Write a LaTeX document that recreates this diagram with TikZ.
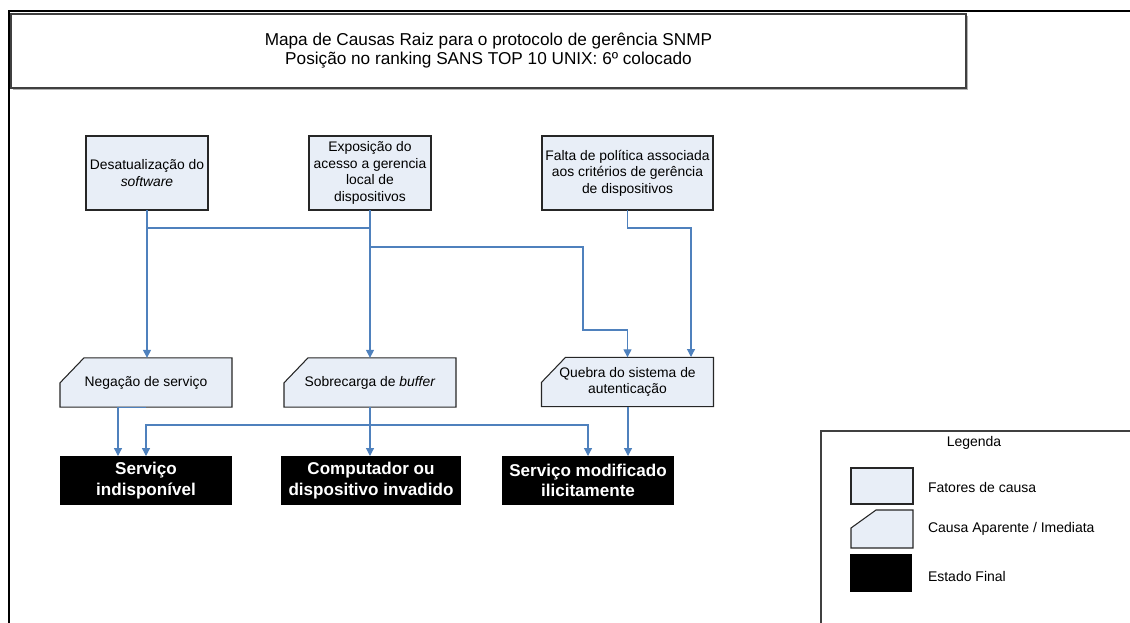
\documentclass[tikz,border=0pt]{standalone}
\usepackage{fontspec}
\setmainfont{Liberation Sans}
\usetikzlibrary{arrows.meta,backgrounds}
\definecolor{caixa}{RGB}{232,238,247}
\definecolor{azul}{RGB}{79,129,189}
\begin{document}
\begin{tikzpicture}[x=0.75pt,y=-0.75pt,
    texto/.style={inner sep=0pt,outer sep=0pt,align=center,font=\fontsize{10.4}{12.5}\selectfont},
    fator/.style={texto,draw=black!85,line width=0.8pt,fill=caixa},
    aparente/.style={texto,minimum width=129pt,minimum height=37pt},
    final/.style={inner sep=0pt,outer sep=0pt,fill=black,text=white,align=center,
        font=\fontsize{12.8}{15.5}\selectfont\bfseries,minimum height=36.75pt},
    seta/.style={azul,line width=0.9pt,-{Triangle[width=6pt,length=6pt]}},
    linha/.style={azul,line width=0.9pt}]

\useasboundingbox (0,0) rectangle (1130,622);
\draw[line width=1.8pt] (9,623) -- (9,11) -- (1131,11);

% titulo
\draw[black!30,line width=0.8pt] (13,89.5) -- (967.5,89.5) -- (967.5,16);
\node[draw=black!75,line width=0.8pt,minimum width=716.25pt,minimum height=55.5pt,
    inner sep=0pt,align=center,font=\fontsize{12.9}{14.3}\selectfont] (titulo) at (488.5,51)
    {Mapa de Causas Raiz para o protocolo de gerência SNMP\\Posição no ranking SANS TOP 10 UNIX: 6º colocado};

% fatores de causa
\node[fator,minimum width=91.5pt,minimum height=55.5pt] (desat) at (147,173) {Desatualização do\\\textit{software}};
\node[fator,minimum width=91.5pt,minimum height=55.5pt] (expo) at (370,173) {Exposição do\\acesso a gerencia\\local de\\dispositivos};
\node[fator,minimum width=128.25pt,minimum height=55.5pt] (falta) at (627.5,173) {Falta de política associada\\aos critérios de gerência\\de dispositivos};

% causas aparentes
\node[aparente] (neg) at (146,382.5) {Negação de serviço};
\node[aparente] (sobre) at (370,382.5) {Sobrecarga de \textit{buffer}};
\node[aparente] (quebra) at (627.5,382) {Quebra do sistema de\\autenticação};

% estados finais
\node[final,minimum width=129pt] (indisp) at (146,480.5) {Serviço\\indisponível};
\node[final,minimum width=135pt] (invadido) at (371,480.5) {Computador ou\\dispositivo invadido};
\node[final,minimum width=129pt] (modif) at (588,480.5) {Serviço modificado\\ilicitamente};

% legenda
\draw[black!75,line width=0.8pt] (821,623) -- (821,431) -- (1131,431);
\node[texto,font=\fontsize{10.5}{12.5}\selectfont] (legenda) at (974,443) {Legenda};
\node[fator,minimum width=46.5pt,minimum height=27pt] (lfator) at (882,486) {};
\node[aparente,minimum width=46.5pt,minimum height=28.5pt] (laparente) at (882,529) {};
\node[final,minimum width=46.5pt,minimum height=28.5pt] (lfinal) at (881,573) {};
\node[texto,anchor=west,font=\fontsize{10.5}{12.5}\selectfont] (tfator) at (928,487) {Fatores de causa};
\node[texto,anchor=west,font=\fontsize{10.5}{12.5}\selectfont] (taparente) at (928,529) {Causa Aparente / Imediata};
\node[texto,anchor=west,font=\fontsize{10.5}{12.5}\selectfont] (tfinal) at (928,576) {Estado Final};

\begin{scope}[on background layer]
  \foreach \n/\cx/\cy in {neg/18/18.75,sobre/18/18.75,quebra/18/18.75,laparente/18.75/13.5}
    \draw[black!85,line width=0.8pt,fill=caixa] ([yshift=-\cy pt]\n.north west) -- ([xshift=\cx pt]\n.north west)
        -- (\n.north east) -- (\n.south east) -- (\n.south west) -- cycle;
\end{scope}

% ligacoes
\coordinate (ja) at (147,228);
\coordinate (jb) at (370,228);
\coordinate (jc) at (370,247);
\coordinate (jd) at (583,330);
\coordinate (je) at (691,357);
\coordinate (jf) at (370,425);
\coordinate (jg) at (628,456);
\draw[seta] (desat.south) -- (desat.south |- neg.north);
\draw[linha] (ja) -- (jb);
\draw[seta] (expo.south) -- (sobre.north);
\draw[seta] (jc) -| (jd) -| (quebra.north);
\draw[seta] (falta.south) |- (ja -| je) -- (je);

\draw[seta] (neg.south) -| ([xshift=-21pt]indisp.north);
\draw[seta] (sobre.south) -- (sobre.south |- invadido.north);
\draw[seta] (jf) -| (indisp.north);
\draw[seta] (jf) -| (modif.north);
\draw[seta] (quebra.south -| jg) -- (jg);

\end{tikzpicture}
\end{document}
